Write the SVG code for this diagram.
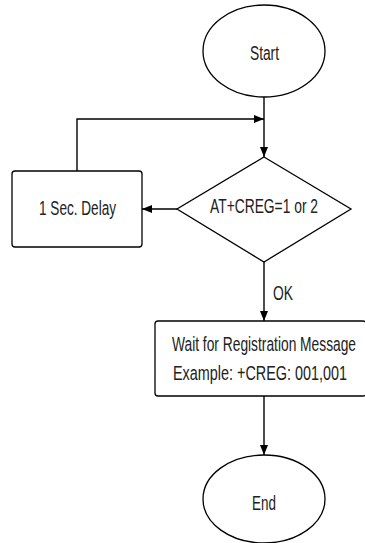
<svg xmlns="http://www.w3.org/2000/svg" width="365" height="543" viewBox="0 0 365 543">
<defs>
<marker id="arr" viewBox="0 0 10 10" refX="10" refY="5" markerWidth="10" markerHeight="10" markerUnits="userSpaceOnUse" orient="auto">
<path d="M0,1 L10,5 L0,9 Z" fill="#000"/>
</marker>
</defs>
<style>
.shape{fill:#fff;stroke:#000;stroke-width:1.3}
.conn{fill:none;stroke:#000;stroke-width:1.4}
.t{font-family:"Liberation Sans Narrow","Arial Narrow","Liberation Sans",Arial,sans-serif;font-size:21px;fill:#222;text-anchor:middle}
.s{font-size:19.5px}
</style>
<rect width="365" height="543" fill="#fff"/>
<g id="connectors">
<path class="conn" d="M264,97 L264,157" marker-end="url(#arr)"/>
<path class="conn" d="M77,171 L77,119 L264,119" stroke-width="2" marker-end="url(#arr)"/>
<path class="conn" d="M177,209 L142,209" stroke-width="2" marker-end="url(#arr)"/>
<path class="conn" d="M264,262 L264,321" marker-end="url(#arr)"/>
<path class="conn" d="M264,396 L264,455" marker-end="url(#arr)"/>
<text class="t" transform="translate(283,300) scale(0.72,1)" textLength="27.8" lengthAdjust="spacingAndGlyphs">OK</text>
</g>
<g id="start">
<ellipse class="shape" cx="264" cy="51" rx="61" ry="46"/>
<text class="t" transform="translate(264.5,60) scale(0.72,1)" font-size="23" textLength="40.3" lengthAdjust="spacingAndGlyphs">Start</text>
</g>
<g id="decision">
<path class="shape" d="M264,157 L351,209 L264,262 L177,209 Z"/>
<text class="t" transform="translate(264,213) scale(0.72,1)" textLength="150" lengthAdjust="spacingAndGlyphs">AT+CREG=1 or 2</text>
</g>
<g id="delay">
<rect class="shape" x="12" y="171" width="130" height="76" rx="3"/>
<text class="t" transform="translate(77.5,215) scale(0.72,1)" textLength="107" lengthAdjust="spacingAndGlyphs">1 Sec. Delay</text>
</g>
<g id="wait">
<rect class="shape" x="155" y="321" width="211" height="75" rx="3"/>
<text class="t s" transform="translate(264,351) scale(0.72,1)" textLength="255.6" lengthAdjust="spacingAndGlyphs">Wait for Registration Message</text>
<text class="t s" transform="translate(260,380) scale(0.72,1)" textLength="241.7" lengthAdjust="spacingAndGlyphs">Example: +CREG: 001,001</text>
</g>
<g id="end">
<ellipse class="shape" cx="264" cy="499" rx="61" ry="44"/>
<text class="t" transform="translate(264,510) scale(0.72,1)" textLength="33.3" lengthAdjust="spacingAndGlyphs">End</text>
</g>
</svg>
